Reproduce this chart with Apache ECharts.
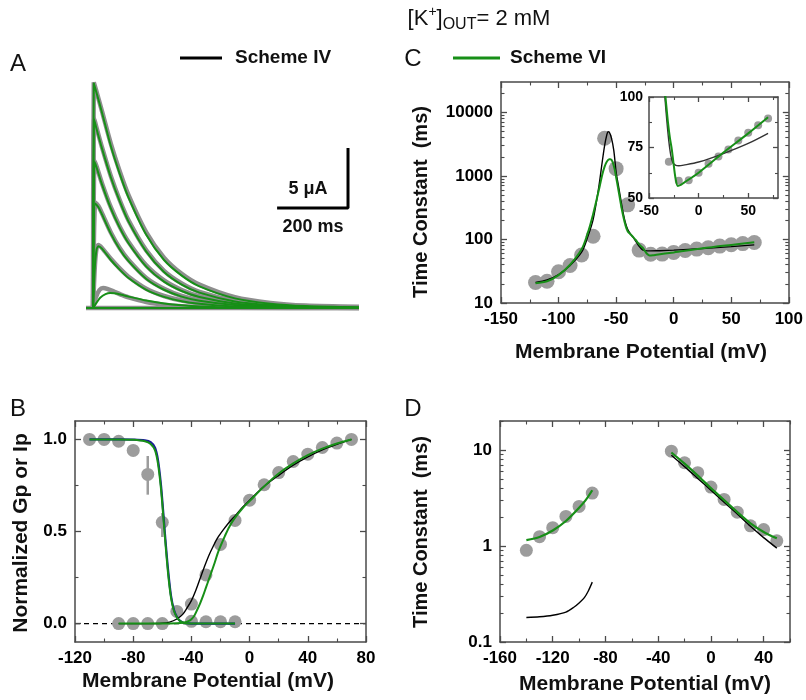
<!DOCTYPE html>
<html><head><meta charset="utf-8">
<script src="https://cdn.jsdelivr.net/npm/echarts@6/dist/echarts.min.js"></script>
<style>html,body{margin:0;padding:0;background:#fff}#c{width:806px;height:700px}</style>
</head><body><div id="c"></div>
<script>
// ---------------- DATA ----------------
// Panel A: current traces [time ms, current uA]
const A_T1_GRAY = [[0,0],[2,18.8],[10,18.0],[25,16.4],[50,13.7],[75,11.4],[100,9.4],[150,6.3],[200,4.2],[250,2.85],[300,1.95],[400,0.9],[500,0.42],[600,0.2],[750,0.1]];
const A_T2_GRAY = [[0,0],[3,15.8],[10,15.0],[25,13.4],[50,11.0],[75,9.0],[100,7.3],[150,4.8],[200,3.1],[250,2.05],[300,1.35],[400,0.6],[500,0.27],[600,0.12],[750,0.05]];
const A_T3_GRAY = [[0,0],[4,12.3],[10,11.8],[25,10.4],[50,8.4],[75,6.8],[100,5.5],[150,3.55],[200,2.3],[250,1.5],[300,0.98],[400,0.42],[500,0.18],[600,0.08],[750,0.03]];
const A_T4_GRAY = [[0,0],[6,8.8],[15,8.5],[25,7.9],[50,6.3],[75,5.0],[100,4.0],[150,2.5],[200,1.6],[250,1.0],[300,0.65],[400,0.27],[500,0.11],[600,0.05],[750,0.02]];
const A_T5_GRAY = [[0,0],[5,3.5],[10,5.0],[15,5.25],[25,5.0],[50,4.1],[75,3.3],[100,2.6],[150,1.6],[200,1.0],[250,0.62],[300,0.4],[400,0.15],[500,0.06],[750,0.01]];
const A_T6_GRAY = [[0,0],[8,0.9],[18,1.5],[28,1.67],[40,1.6],[60,1.35],[80,1.1],[100,0.88],[150,0.5],[200,0.28],[250,0.15],[300,0.08],[400,0.02],[750,0]];
const A_T1_GREEN = [[0,0],[2,18.7],[10,17.9],[25,16.3],[50,13.5],[75,11.2],[100,9.2],[150,6.1],[200,4.0],[250,2.7],[300,1.8],[400,0.8],[500,0.36],[600,0.16],[750,0.06]];
const A_T2_GREEN = [[0,0],[3,15.7],[10,14.9],[25,13.3],[50,10.9],[75,8.9],[100,7.2],[150,4.7],[200,3.0],[250,1.95],[300,1.28],[400,0.55],[500,0.24],[600,0.1],[750,0.04]];
const A_T3_GREEN = [[0,0],[4,12.2],[10,11.7],[25,10.3],[50,8.3],[75,6.7],[100,5.4],[150,3.45],[200,2.2],[250,1.42],[300,0.92],[400,0.38],[500,0.16],[600,0.07],[750,0.02]];
const A_T4_GREEN = [[0,0],[6,8.7],[15,8.4],[25,7.8],[50,6.2],[75,4.9],[100,3.9],[150,2.42],[200,1.52],[250,0.95],[300,0.6],[400,0.24],[500,0.1],[600,0.04],[750,0.01]];
const A_T5_GREEN = [[0,0],[5,3.4],[10,4.9],[15,5.15],[25,4.95],[50,4.0],[75,3.2],[100,2.5],[150,1.52],[200,0.93],[250,0.57],[300,0.36],[400,0.13],[500,0.05],[750,0.01]];
const A_T6_GREEN = [[0,0],[10,0.45],[20,0.85],[35,1.15],[48,1.25],[60,1.22],[80,1.1],[100,0.95],[150,0.62],[200,0.38],[250,0.22],[300,0.12],[400,0.04],[750,0]];
const A_BASE = [[-20,0],[750,0]];
const A_SCALE_T0 = 519, A_SCALE_I0 = 8.33, A_SCALE_DT = 200, A_SCALE_DI = 5;

// Panel B: normalized Gp / Ip vs membrane potential (mV)
const B_PTS_INACT = [[-110,1.0],[-100,1.0],[-90,0.99],[-80,0.94],[-70,0.81],[-60,0.55],[-50,0.066],[-40,0.012],[-30,0.01],[-20,0.01],[-10,0.01]];
const B_PTS_ACT = [[-90,0],[-80,0],[-70,0],[-60,0],[-40,0.106],[-30,0.264],[-20,0.43],[-10,0.56],[0,0.67],[10,0.754],[20,0.82],[30,0.88],[40,0.92],[50,0.956],[60,0.98],[70,1.0]];
const B_ERR = [[-70,0.70,0.91],[-60,0.47,0.60]];
const B_INACT_BLUE = [[-110,1],[-90,1],[-80,0.999],[-72,0.995],[-68,0.985],[-65,0.955],[-63,0.89],[-61,0.76],[-59.5,0.62],[-58,0.47],[-56,0.29],[-54,0.15],[-52,0.075],[-50,0.037],[-48,0.016],[-46,0.006],[-44,0.002],[-40,0],[-10,0]];
const B_INACT_GREEN = [[-110,1],[-90,1],[-80,0.998],[-72,0.99],[-68,0.975],[-65,0.94],[-63,0.87],[-61,0.74],[-59.5,0.6],[-58,0.45],[-56,0.27],[-54,0.14],[-52,0.07],[-50,0.035],[-48,0.015],[-46,0.006],[-44,0.002],[-40,0],[-10,0]];
const B_ACT_BLACK = [[-90,0],[-70,0],[-60,0.002],[-55,0.008],[-50,0.025],[-46,0.05],[-43,0.085],[-40,0.125],[-37,0.18],[-34,0.245],[-31,0.31],[-28,0.37],[-25,0.42],[-22,0.465],[-18,0.51],[-14,0.55],[-10,0.585],[-5,0.63],[0,0.67],[10,0.745],[20,0.805],[30,0.86],[40,0.905],[50,0.943],[60,0.973],[70,1.0]];
const B_ACT_GREEN = [[-90,0],[-60,0],[-50,0.002],[-45,0.006],[-42,0.013],[-40,0.024],[-38,0.043],[-36,0.075],[-34,0.11],[-32,0.15],[-30,0.195],[-28,0.24],[-26,0.285],[-24,0.33],[-22,0.38],[-20,0.42],[-17,0.475],[-14,0.525],[-10,0.575],[-5,0.625],[0,0.665],[10,0.745],[20,0.815],[30,0.87],[40,0.915],[50,0.95],[60,0.978],[70,1.0]];
const B_ZERO = [[-120,0],[80,0]];

// Panel C: time constant (ms) vs membrane potential (mV)
const C_PTS = [[-120,21],[-110,22],[-100,31],[-90,39],[-80,57],[-70,112],[-60,3900],[-50,1300],[-40,350],[-30,68],[-20,58.5],[-10,58.8],[0,62.5],[10,67],[20,70.5],[30,74],[40,78.5],[50,82.3],[60,86],[70,89.4]];
const C_BLACK = [[-120,21],[-110,23],[-100,28],[-90,39],[-80,63],[-75,105],[-70,205],[-65,680],[-62,1700],[-60,3000],[-58,4500],[-57,4950],[-56,4900],[-54,3900],[-52,2500],[-50,1150],[-48,700],[-46,430],[-44,270],[-42,185],[-40,145],[-37,118],[-35,107],[-34,100],[-32,88],[-30,78],[-28,71],[-26,67.5],[-23,66.2],[-20,66],[-15,66.3],[0,67.8],[25,72],[50,77],[70,82]];
const C_GREEN = [[-120,20.5],[-110,22],[-100,27.5],[-90,40],[-80,70],[-75,120],[-70,250],[-65,600],[-62,1050],[-60,1400],[-58,1680],[-56,1820],[-55,1820],[-53,1650],[-51,1200],[-50,950],[-48,600],[-46,370],[-44,240],[-42,170],[-40,135],[-37,118],[-35,108],[-33,98],[-31,88],[-29,80],[-27,74],[-25,66],[-23,59],[-21,56],[-18,56.5],[-15,57.5],[0,62.5],[25,72.5],[50,82],[70,90]];

// Panel D: time constant (ms) vs membrane potential (mV)
const D_PTS = [[-140,0.9],[-130,1.25],[-120,1.55],[-110,2.03],[-100,2.58],[-90,3.55],[-30,9.7],[-20,7.35],[-10,5.8],[0,4.1],[10,3.05],[20,2.25],[30,1.62],[40,1.48],[50,1.13]];
const D_ERR = [[-100,2.35,2.85],[-90,3.25,3.9]];
const D_GREEN_L = [[-140,1.15],[-130,1.24],[-120,1.45],[-110,1.82],[-100,2.5],[-95,3.0],[-90,3.8]];
const D_BLACK_L = [[-140,0.18],[-130,0.183],[-120,0.19],[-110,0.205],[-104,0.23],[-100,0.255],[-96,0.29],[-93,0.34],[-90,0.42]];
const D_GREEN_R = [[-30,9.4],[-20,7.2],[-10,5.4],[0,4.0],[10,3.0],[20,2.25],[30,1.72],[40,1.4],[50,1.2]];
const D_BLACK_R = [[-30,8.8],[-20,6.7],[-10,5.05],[0,3.8],[10,2.85],[20,2.15],[30,1.6],[40,1.22],[50,0.95]];

// Ticks
const B_X_MAJOR = [-120,-80,-40,0,40,80], B_X_MINOR = [-100,-60,-20,20,60];
const B_Y_MAJOR = [0,0.5,1.0], B_Y_MINOR = [0.25,0.75];
const C_X_MAJOR = [-150,-100,-50,0,50,100], C_X_MINOR = [-125,-75,-25,25,75];
const C_Y_MAJOR = [10,100,1000,10000], C_Y_MINOR = [20,30,40,50,60,70,80,90,200,300,400,500,600,700,800,900,2000,3000,4000,5000,6000,7000,8000,9000,20000];
const CI_X_MAJOR = [-50,0,50], CI_X_MINOR = [-25,25,75];
const CI_Y_MAJOR = [50,75,100], CI_Y_MINOR = [62.5,87.5];
const D_X_MAJOR = [-160,-120,-80,-40,0,40], D_X_MINOR = [-140,-100,-60,-20,20,60];
const D_Y_MAJOR = [0.1,1,10], D_Y_MINOR = [0.2,0.3,0.4,0.5,0.6,0.7,0.8,0.9,2,3,4,5,6,7,8,9,20];

// ---------------- CHART ----------------
const FONT = '"Liberation Sans", Arial, Helvetica, sans-serif';
const FRAME = '#4a4a4a';
const GREEN = '#178f17';
const GRAYPT = '#9c9c9c';
const fmtNum = v => String(Math.round(v * 1000) / 1000);

const xAxes = [], yAxes = [];
function addAxes(list, gi, dim, o) {
  const pos = dim === 'x' ? ['bottom', 'top'] : ['left', 'right'];
  const base = { gridIndex: gi, type: o.type || 'value', min: o.min, max: o.max, splitLine: { show: false }, z: 6 };
  if (o.type === 'log') base.logBase = 10;
  const first = list.length;
  pos.forEach((p, k) => {
    list.push(Object.assign({}, base, {
      position: p,
      axisLine: { show: true, onZero: false, lineStyle: { color: FRAME, width: 1.5 } },
      axisTick: { show: true, inside: true, length: o.majorLen || 6, customValues: o.major, lineStyle: { color: FRAME, width: 1.3 } },
      axisLabel: k === 0 ? { show: true, customValues: o.major, formatter: o.fmt || fmtNum, fontFamily: FONT, fontWeight: 'bold', fontSize: o.fs || 17, color: '#000', margin: o.margin || 8 } : { show: false }
    }));
    list.push(Object.assign({}, base, {
      position: p,
      axisLine: { show: false, onZero: false },
      axisTick: { show: true, inside: true, length: o.minorLen || 3.5, customValues: o.minor, lineStyle: { color: FRAME, width: 1.1 } },
      axisLabel: { show: false }
    }));
  });
  return first;
}

const grids = [
  { left: 86, top: 80, width: 273, height: 240 },           // 0: A
  { left: 75, right: 440, top: 421, bottom: 58 },           // 1: B
  { left: 501, right: 16, top: 82, bottom: 397 },           // 2: C
  { left: 649, right: 28, top: 97, bottom: 502, show: true, backgroundColor: '#fff', borderWidth: 0, z: 3 }, // 3: C inset
  { left: 500, right: 16, top: 421, bottom: 58 }            // 4: D
];

xAxes.push({ gridIndex: 0, type: 'value', min: -20, max: 750, show: false });
yAxes.push({ gridIndex: 0, type: 'value', min: -1, max: 19, show: false });
const AX = 0, AY = 0;
const BX = addAxes(xAxes, 1, 'x', { min: -120, max: 80, major: B_X_MAJOR, minor: B_X_MINOR });
const BY = addAxes(yAxes, 1, 'y', { min: -0.1, max: 1.1, major: B_Y_MAJOR, minor: B_Y_MINOR, fmt: v => v.toFixed(1) });
const CX = addAxes(xAxes, 2, 'x', { min: -150, max: 100, major: C_X_MAJOR, minor: C_X_MINOR });
const CY = addAxes(yAxes, 2, 'y', { type: 'log', min: 10, max: 30000, major: C_Y_MAJOR, minor: C_Y_MINOR });
const IX = addAxes(xAxes, 3, 'x', { min: -50, max: 80, major: CI_X_MAJOR, minor: CI_X_MINOR, fs: 14, margin: 6, majorLen: 5, minorLen: 3 });
const IY = addAxes(yAxes, 3, 'y', { min: 50, max: 100, major: CI_Y_MAJOR, minor: CI_Y_MINOR, fs: 14, margin: 6, majorLen: 5, minorLen: 3 });
const DX = addAxes(xAxes, 4, 'x', { min: -160, max: 60, major: D_X_MAJOR, minor: D_X_MINOR });
const DY = addAxes(yAxes, 4, 'y', { type: 'log', min: 0.1, max: 20, major: D_Y_MAJOR, minor: D_Y_MINOR });

const series = [];
function line(data, xi, yi, color, width, extra) {
  series.push(Object.assign({ type: 'line', xAxisIndex: xi, yAxisIndex: yi, data: data, showSymbol: false, symbol: 'none', smooth: 0.3, lineStyle: { color: color, width: width }, z: 4, silent: true }, extra || {}));
}
function scatter(data, xi, yi, size, extra) {
  series.push(Object.assign({ type: 'scatter', xAxisIndex: xi, yAxisIndex: yi, data: data, symbolSize: size, itemStyle: { color: GRAYPT, opacity: 1 }, z: 3, silent: true }, extra || {}));
}
function errbars(data, xi, yi, w) {
  series.push({ type: 'custom', xAxisIndex: xi, yAxisIndex: yi, data: data, encode: { x: 0, y: [1, 2] }, z: 2, silent: true,
    renderItem: (params, api) => {
      const p1 = api.coord([api.value(0), api.value(1)]);
      const p2 = api.coord([api.value(0), api.value(2)]);
      return { type: 'line', shape: { x1: p1[0], y1: p1[1], x2: p2[0], y2: p2[1] }, style: { stroke: GRAYPT, lineWidth: w } };
    } });
}

// Panel A
const aGray = [A_T1_GRAY, A_T2_GRAY, A_T3_GRAY, A_T4_GRAY, A_T5_GRAY, A_T6_GRAY, A_BASE];
const aGreen = [A_T1_GREEN, A_T2_GREEN, A_T3_GREEN, A_T4_GREEN, A_T5_GREEN, A_T6_GREEN, A_BASE];
aGray.forEach(d => line(d, AX, AY, '#8e8e8e', 4.5, { z: 3, smooth: 0.25 }));
aGreen.forEach(d => line(d, AX, AY, GREEN, 2, { z: 4, smooth: 0.25 }));
line([[A_SCALE_T0, A_SCALE_I0], [A_SCALE_T0 + A_SCALE_DT, A_SCALE_I0], [A_SCALE_T0 + A_SCALE_DT, A_SCALE_I0 + A_SCALE_DI]], AX, AY, '#000', 3, { smooth: false });

// Panel B
line(B_ZERO, BX, BY, '#000', 1.2, { smooth: false, lineStyle: { color: '#000', width: 1.2, type: [5, 4] }, z: 2 });
errbars(B_ERR, BX, BY, 2.5);
scatter(B_PTS_INACT, BX, BY, 13);
scatter(B_PTS_ACT, BX, BY, 13);
line(B_INACT_BLUE, BX, BY, '#1a1a9a', 2.2);
line(B_ACT_BLACK, BX, BY, '#000', 1.4);
line(B_INACT_GREEN, BX, BY, GREEN, 2);
line(B_ACT_GREEN, BX, BY, GREEN, 2);

// Panel C
scatter(C_PTS, CX, CY, 15);
line(C_BLACK, CX, CY, '#000', 1.4);
line(C_GREEN, CX, CY, GREEN, 2);
scatter(C_PTS.filter(p => p[0] >= -50 && p[1] <= 100), IX, IY, 8, { z: 5 });
line(C_BLACK, IX, IY, '#333', 1.4, { z: 6 });
line(C_GREEN, IX, IY, GREEN, 2, { z: 6 });

// Panel D
errbars(D_ERR, DX, DY, 2);
scatter(D_PTS, DX, DY, 13);
line(D_BLACK_L, DX, DY, '#000', 1.4);
line(D_BLACK_R, DX, DY, '#000', 1.4);
line(D_GREEN_L, DX, DY, GREEN, 2.2);
line(D_GREEN_R, DX, DY, GREEN, 2.2);

function txt(x, y, s, size, weight, align) {
  return { type: 'text', x: x, y: y, silent: true, z: 10,
    style: { text: s, font: (weight || 'normal') + ' ' + size + 'px ' + FONT, fill: '#111', textAlign: align || 'center', textVerticalAlign: 'middle' } };
}
function vtxt(x, y, s, size) {
  const t = txt(x, y, s, size, 'bold');
  t.rotation = Math.PI / 2;
  return t;
}

const graphic = [
  { type: 'text', x: 479, y: 19, silent: true, z: 10,
    style: { text: '{n|[K}{sup|+}{n|]}{sub|OUT}{n|= 2 mM}', textAlign: 'center', textVerticalAlign: 'middle',
      rich: { n: { fontSize: 22, fontFamily: FONT, lineHeight: 28, fill: '#111', verticalAlign: 'middle' },
              sup: { fontSize: 14, fontFamily: FONT, lineHeight: 14, fill: '#111', verticalAlign: 'top' },
              sub: { fontSize: 16, fontFamily: FONT, lineHeight: 15, fill: '#111', verticalAlign: 'bottom' } } } },
  txt(18, 64, 'A', 24), txt(413, 59, 'C', 24), txt(18, 409, 'B', 24), txt(413, 409, 'D', 24),
  { type: 'line', shape: { x1: 180, y1: 58, x2: 222, y2: 58 }, style: { stroke: '#000', lineWidth: 3 }, silent: true },
  txt(235, 58, 'Scheme IV', 19, 'bold', 'left'),
  { type: 'line', shape: { x1: 453, y1: 58, x2: 500, y2: 58 }, style: { stroke: GREEN, lineWidth: 3 }, silent: true },
  txt(510, 58, 'Scheme VI', 19, 'bold', 'left'),
  txt(308, 189, '5 \u03bcA', 18, 'bold'),
  txt(313, 227, '200 ms', 18, 'bold'),
  txt(208, 681, 'Membrane Potential (mV)', 21, 'bold'),
  txt(641, 352, 'Membrane Potential (mV)', 21, 'bold'),
  txt(645, 684, 'Membrane Potential (mV)', 21, 'bold'),
  vtxt(21, 533, 'Normalized Gp or Ip', 21),
  vtxt(421, 202, 'Time Constant  (ms)', 20),
  vtxt(421, 532, 'Time Constant  (ms)', 20)
];

const chart = echarts.init(document.getElementById('c'), null, { renderer: 'canvas' });
chart.setOption({
  animation: false,
  backgroundColor: '#fff',
  grid: grids,
  xAxis: xAxes,
  yAxis: yAxes,
  series: series,
  graphic: graphic
});
</script></body></html>
